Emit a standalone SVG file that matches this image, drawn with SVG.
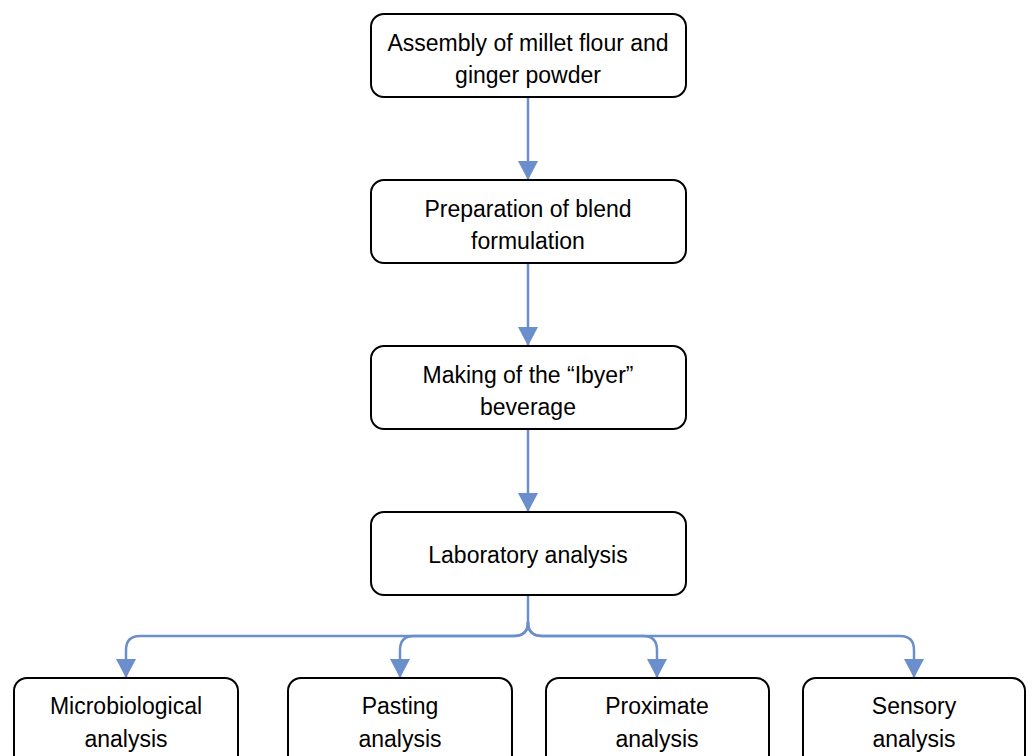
<svg xmlns="http://www.w3.org/2000/svg" width="1032" height="756" viewBox="0 0 1032 756">
<style>
.box{fill:#fff;stroke:#000;stroke-width:2}
.t{font-family:"Liberation Sans",Arial,sans-serif;font-size:23px;fill:#000;text-anchor:middle}
.c{fill:none;stroke:#6A8FCC;stroke-width:2.5}
</style>
<defs>
<marker id="ah" viewBox="0 0 19 20" refX="19" refY="10" markerWidth="19" markerHeight="20" markerUnits="userSpaceOnUse" orient="auto">
<path d="M0,0 L19,10 L0,20 Z" fill="#6A8FCC"/>
</marker>
</defs>
<rect width="1032" height="756" fill="#fff"/>
<g id="connectors">
<path class="c" d="M528,97 V180" marker-end="url(#ah)"/>
<path class="c" d="M528,263 V346" marker-end="url(#ah)"/>
<path class="c" d="M528,429 V512" marker-end="url(#ah)"/>
<path class="c" d="M528,595 V622 Q528,636 514,636 H140 Q126,636 126,650 V678" marker-end="url(#ah)"/>
<path class="c" d="M528,622 Q528,636 514,636 H414 Q400,636 400,650 V678" marker-end="url(#ah)"/>
<path class="c" d="M528,622 Q528,636 542,636 H643 Q657,636 657,650 V678" marker-end="url(#ah)"/>
<path class="c" d="M528,622 Q528,636 542,636 H900 Q914,636 914,650 V678" marker-end="url(#ah)"/>
</g>
<g id="n1"><rect class="box" x="371" y="14" width="315" height="83" rx="13"/>
<text class="t" x="528" y="51">Assembly of millet flour and</text><text class="t" x="528" y="83">ginger powder</text></g>
<g id="n2"><rect class="box" x="371" y="180" width="315" height="83" rx="13"/>
<text class="t" x="528" y="217">Preparation of blend</text><text class="t" x="528" y="249">formulation</text></g>
<g id="n3"><rect class="box" x="371" y="346" width="315" height="83" rx="13"/>
<text class="t" x="528" y="383">Making of the “Ibyer”</text><text class="t" x="528" y="415">beverage</text></g>
<g id="n4"><rect class="box" x="371" y="512" width="315" height="83" rx="13"/>
<text class="t" x="528" y="563">Laboratory analysis</text></g>
<g id="n5"><rect class="box" x="14" y="678" width="224" height="90" rx="13"/>
<text class="t" x="126" y="714">Microbiological</text><text class="t" x="126" y="747">analysis</text></g>
<g id="n6"><rect class="box" x="288" y="678" width="224" height="90" rx="13"/>
<text class="t" x="400" y="714">Pasting</text><text class="t" x="400" y="747">analysis</text></g>
<g id="n7"><rect class="box" x="546" y="678" width="223" height="90" rx="13"/>
<text class="t" x="657" y="714">Proximate</text><text class="t" x="657" y="747">analysis</text></g>
<g id="n8"><rect class="box" x="803" y="678" width="222" height="90" rx="13"/>
<text class="t" x="914" y="714">Sensory</text><text class="t" x="914" y="747">analysis</text></g>
</svg>
